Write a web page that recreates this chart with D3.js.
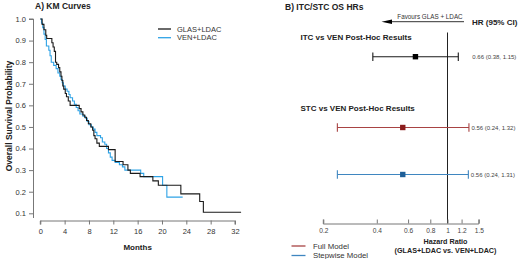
<!DOCTYPE html>
<html><head><meta charset="utf-8">
<script src="https://cdn.jsdelivr.net/npm/d3@7"></script>
<style>body{margin:0;background:#fff}svg{display:block;font-family:"Liberation Sans",Arial,sans-serif}</style>
</head><body><svg id="c" width="520" height="259"></svg>
<script>
// KM data (step functions)
const glasTime = [0,0.3,0.6,0.9,1.05,1.9,2.1,2.3,2.5,2.7,3.0,3.2,3.4,3.55,3.7,3.85,4.1,4.3,4.6,4.9,6.4,6.7,7.0,7.3,7.6,7.9,8.3,8.6,8.8,9.0,9.3,9.7,11.2,12.3,13.6,14.4,14.8,16.4,18.5,19.4,23.1,26.2,26.8,33.0];
const glasSurv = [1.0,0.975,0.95,0.925,0.91,0.89,0.87,0.85,0.80,0.79,0.775,0.755,0.735,0.715,0.69,0.675,0.655,0.64,0.62,0.60,0.585,0.57,0.555,0.545,0.53,0.515,0.50,0.485,0.46,0.445,0.425,0.41,0.395,0.34,0.325,0.30,0.285,0.27,0.25,0.23,0.19,0.155,0.105,0.105];
const venTime = [0,0.2,0.4,0.6,0.8,1.0,1.4,1.6,1.8,2.2,2.6,2.9,3.2,3.4,3.6,3.8,4.1,4.4,4.7,4.9,5.3,5.6,5.9,6.2,6.5,7.0,7.4,7.7,8.0,8.4,8.7,9.0,9.3,9.9,10.2,10.6,10.9,11.2,11.5,11.8,12.3,13.0,13.5,13.9,16.5,17.0,20.1,20.8,23.4];
const venSurv = [1.0,0.98,0.96,0.93,0.905,0.875,0.855,0.83,0.80,0.785,0.77,0.75,0.735,0.72,0.705,0.69,0.675,0.665,0.65,0.635,0.62,0.605,0.59,0.575,0.56,0.55,0.54,0.525,0.51,0.50,0.49,0.475,0.46,0.45,0.43,0.42,0.40,0.38,0.36,0.345,0.335,0.325,0.315,0.30,0.285,0.27,0.23,0.175,0.175];
const kmSeries = ["GLAS+LDAC","VEN+LDAC"];
const monthTicks = [0,4,8,12,16,20,24,28,32];
const survTicks = [0.1,0.2,0.3,0.4,0.5,0.6,0.7,0.8,0.9,1.0];

// Forest data
const hrLabels = ["ITC vs VEN Post-Hoc Results","STC vs VEN Post-Hoc Results",""];
const hrEst = [0.66,0.56,0.56];
const hrLow = [0.38,0.24,0.24];
const hrHigh = [1.15,1.32,1.31];
const hrText = ["0.66 (0.38, 1.15)","0.56 (0.24, 1.32)","0.56 (0.24, 1.31)"];
const hrModels = ["ITC","Full Model","Stepwise Model"];
const hrTicks = [0.2,0.4,0.6,0.8,1,1.2,1.5];

const svg = d3.select("#c");
const txt = "#222";

// ---------- Panel A ----------
const x = d3.scaleLinear().domain([0,32]).range([40.3,235]);
const y = d3.scaleLinear().domain([0.1,1.0]).range([213.3,19]);

svg.append("text").attr("x",35).attr("y",9).attr("font-size",8.5).attr("font-weight","bold").attr("fill",txt).text("A) KM Curves");

const xa = svg.append("g").attr("transform","translate(0,220.5)")
  .call(d3.axisBottom(x).tickValues(monthTicks).tickSize(4).tickPadding(4).tickFormat(d3.format("d")));
const ya = svg.append("g").attr("transform","translate(33,0)")
  .call(d3.axisLeft(y).tickValues(survTicks).tickSize(4).tickPadding(3).tickFormat(d3.format(".1f")));
[xa,ya].forEach(g=>{
  g.select(".domain").attr("stroke","#777");
  g.selectAll(".tick line").attr("stroke","#777");
  g.selectAll("text").attr("font-size",7.5).attr("fill","#333").attr("font-family","Liberation Sans, Arial, sans-serif");
});
ya.select(".domain").attr("d","M-4,"+y(1.0)+"H0.5V218");
xa.select(".domain").attr("d","M"+x(0)+",4V0.5H"+x(32)+"V4");

svg.append("text").attr("x",x(16)).attr("y",249.5).attr("text-anchor","middle").attr("font-size",8).attr("font-weight","bold").attr("fill",txt).text("Months");
svg.append("text").attr("transform","translate(11.5,"+((19+213)/2)+") rotate(-90)").attr("text-anchor","middle").attr("font-size",8.5).attr("font-weight","bold").attr("fill",txt).text("Overall Survival Probability");

const line = d3.line().x(d=>x(d[0])).y(d=>y(d[1])).curve(d3.curveStepAfter);
const kmColors = ["#1a1a1a","#2fa3e6"];
const kmData = [d3.zip(glasTime,glasSurv), d3.zip(venTime,venSurv)];
[1,0].forEach(i=>{
  svg.append("path").datum(kmData[i]).attr("d",line).attr("fill","none").attr("stroke",kmColors[i]).attr("stroke-width",1.1);
});
kmSeries.forEach((s,i)=>{
  const yy = 29 + i*8.7;
  svg.append("line").attr("x1",158).attr("x2",171).attr("y1",yy).attr("y2",yy).attr("stroke",kmColors[i]).attr("stroke-width",1.3);
  svg.append("text").attr("x",177).attr("y",yy+2.7).attr("font-size",7.5).attr("fill","#333").text(s);
});

// ---------- Panel B ----------
const hx = d3.scaleLog().domain([0.2,1.5]).range([323.3,478.8]);
const rowY = [56.7,127.5,174.5];
const hrLine = ["#1a1a1a","#a84343","#3f86c0"];
const hrBox = ["#000","#8b1c1c","#1f5f98"];

svg.append("text").attr("x",285).attr("y",10).attr("font-size",8.5).attr("font-weight","bold").attr("fill",txt).text("B) ITC/STC OS HRs");
svg.append("text").attr("x",430).attr("y",18.8).attr("text-anchor","middle").attr("font-size",6.3).attr("fill","#333").text("Favours GLAS + LDAC");
svg.append("line").attr("x1",390).attr("x2",464).attr("y1",21.7).attr("y2",21.7).attr("stroke","#333").attr("stroke-width",1);
svg.append("path").attr("d","M381.5,21.7L392,19.5L392,23.9Z").attr("fill","#000");
svg.append("text").attr("x",472).attr("y",24.5).attr("font-size",8).attr("font-weight","bold").attr("fill",txt).text("HR (95% CI)");

svg.append("line").attr("x1",hx(1)).attr("x2",hx(1)).attr("y1",32.5).attr("y2",223.5).attr("stroke","#222").attr("stroke-width",1);

svg.append("text").attr("x",300.5).attr("y",39.7).attr("font-size",8).attr("font-weight","bold").attr("fill",txt).text(hrLabels[0]);
svg.append("text").attr("x",300.5).attr("y",110.5).attr("font-size",8).attr("font-weight","bold").attr("fill",txt).text(hrLabels[1]);

hrEst.forEach((e,i)=>{
  const g = svg.append("g");
  const yy = rowY[i];
  g.append("line").attr("x1",hx(hrLow[i])).attr("x2",hx(hrHigh[i])).attr("y1",yy).attr("y2",yy).attr("stroke",hrLine[i]).attr("stroke-width",1.1);
  [hrLow[i],hrHigh[i]].forEach(v=>{
    g.append("line").attr("x1",hx(v)).attr("x2",hx(v)).attr("y1",yy-4.3).attr("y2",yy+4.3).attr("stroke",hrLine[i]).attr("stroke-width",1.1);
  });
  g.append("rect").attr("x",hx(e)-2.7).attr("y",yy-2.7).attr("width",5.4).attr("height",5.4).attr("fill",hrBox[i]);
  g.append("text").attr("x",i===0?472.3:hx(hrHigh[i])+2.5).attr("y",yy+2.2).attr("font-size",6).attr("fill","#444").text(hrText[i]);
});

const ha = svg.append("g").attr("transform","translate(0,223.5)")
  .call(d3.axisTop(hx).tickValues(hrTicks).tickSize(4).tickPadding(0).tickFormat(d=>String(d)));
ha.select(".domain").attr("d","M"+hx(0.2)+",-4V0.5H"+hx(1.5)+"V-4").attr("stroke","#777");
ha.selectAll(".tick line").attr("stroke","#777");
ha.selectAll(".tick text").attr("y",9.8).attr("dy",0).attr("font-size",6.6).attr("fill","#444").attr("font-family","Liberation Sans, Arial, sans-serif");

svg.append("text").attr("x",445.5).attr("y",244).attr("text-anchor","middle").attr("font-size",7.2).attr("font-weight","bold").attr("fill",txt).text("Hazard Ratio");
svg.append("text").attr("x",445.5).attr("y",253).attr("text-anchor","middle").attr("font-size",7.2).attr("font-weight","bold").attr("fill",txt).text("(GLAS+LDAC vs. VEN+LDAC)");

[1,2].forEach((i,k)=>{
  const yy = 246 + k*9.5;
  svg.append("line").attr("x1",291.5).attr("x2",305.5).attr("y1",yy).attr("y2",yy).attr("stroke",hrLine[i]).attr("stroke-width",1.3);
  svg.append("text").attr("x",313).attr("y",yy+2.7).attr("font-size",7.8).attr("fill","#333").text(hrModels[i]);
});
</script></body></html>
